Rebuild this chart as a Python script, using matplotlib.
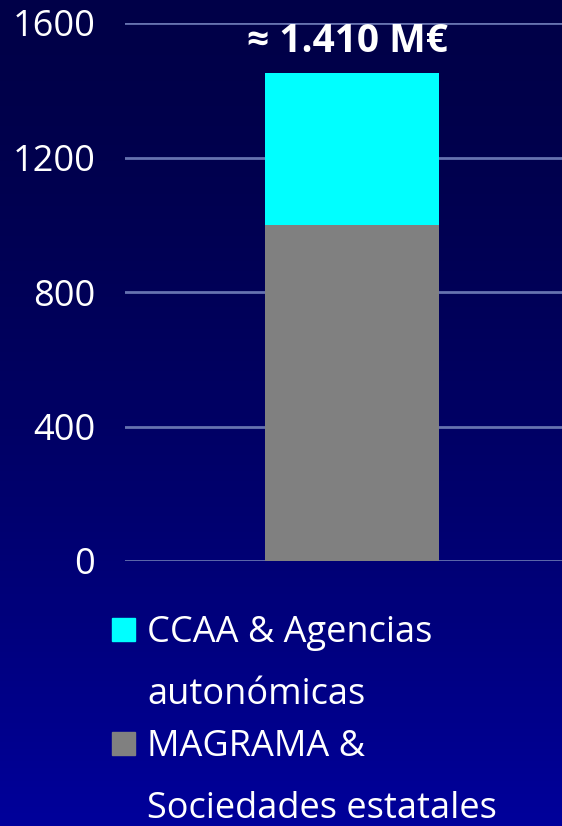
import matplotlib

matplotlib.use("Agg")

import matplotlib.pyplot as plt
import numpy as np
from matplotlib.patches import Rectangle

plt.rcParams["font.family"] = ["Open Sans", "DejaVu Sans"]

# data
categories = ["Total"]
series_names = [["MAGRAMA &", "Sociedades estatales"], ["CCAA & Agencias", "autonómicas"]]
series_values = [[1000], [450]]
series_colors = ["#808080", "#00FFFF"]
yticks = [0, 400, 800, 1200, 1600]
total_label = "≈ 1.410 M€"

W, H = 562, 826
fig = plt.figure(figsize=(W / 100, H / 100), dpi=100)

# background gradient
bg = fig.add_axes([0, 0, 1, 1], zorder=-10)
rows = np.linspace(0, 1, 256) ** 1.6
grad = np.zeros((256, 1, 3))
grad[:, 0, 2] = (72 + (155 - 72) * rows) / 255
bg.imshow(grad, aspect="auto", extent=[0, 1, 1, 0])
bg.set_xlim(0, 1)
bg.set_ylim(1, 0)
bg.axis("off")

ax = fig.add_axes([125 / W, 1 - 561 / H, 1 - 125 / W, (561 - 23) / H])
ax.set_facecolor("none")

x = np.arange(len(categories))
bottom = np.zeros(len(categories))
for vals, color in zip(series_values, series_colors):
    ax.bar(x, vals, bottom=bottom, width=0.8, color=color, zorder=3)
    bottom += np.array(vals)

ax.set_xlim(-1.044, 0.965)
ax.set_ylim(0, 1600)
ax.set_yticks(yticks)
ax.set_yticklabels([str(t) for t in yticks], fontsize=26, color="white")
ax.tick_params(axis="y", length=0, pad=21.5)
ax.set_xticks([])
ax.grid(axis="y", color="#6672B0", linewidth=2, zorder=0)
for s in ax.spines.values():
    s.set_visible(False)

fig.text(347 / W, 1 - 42 / H, total_label, color="white", fontsize=28,
         fontweight="bold", ha="center", va="center")

# legend, drawn by hand to keep the wrapped entry layout
legend_baselines = [642, 756]
line_step = 62
for lines, color, base in zip(series_names[::-1], series_colors[::-1], legend_baselines):
    fig.patches.append(Rectangle((112 / W, 1 - (base - 1) / H), 23 / W, 23 / H,
                                 transform=fig.transFigure, color=color))
    for i, line in enumerate(lines):
        fig.text(147 / W, 1 - (base + i * line_step) / H, line, color="white",
                 fontsize=26, ha="left", va="baseline")

fig.savefig("out.png", dpi=100)
